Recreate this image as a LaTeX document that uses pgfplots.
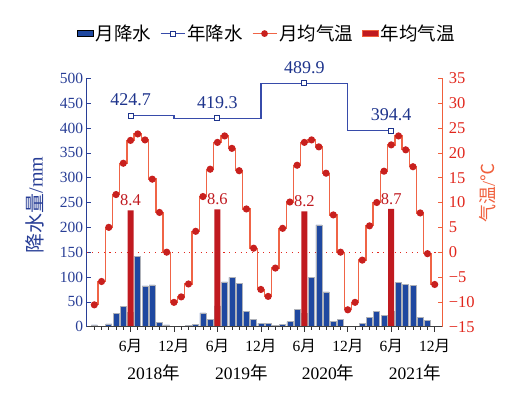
\documentclass[border=0pt]{standalone}
\usepackage{pgfplots}
\pgfplotsset{compat=1.18}
\usepackage{pgfplotstable}
\usepackage{fontspec}
\setmainfont{Liberation Serif}
\newfontfamily\cjk{Noto Sans CJK SC}
\newcommand\fs[1]{\fontsize{#1}{#1}\selectfont}
\definecolor{pblue}{RGB}{31,72,160}
\definecolor{pedge}{RGB}{175,178,185}
\definecolor{axblue}{RGB}{40,62,150}
\definecolor{lineblue}{RGB}{55,75,170}
\definecolor{lblblue}{RGB}{30,52,140}
\definecolor{tline}{RGB}{240,100,70}
\definecolor{tmark}{RGB}{200,32,30}
\definecolor{tbar}{RGB}{192,26,32}
\definecolor{axred}{RGB}{240,95,60}
\definecolor{lblred}{RGB}{225,38,28}

\pgfplotstableread{
m p
1 3.5
3 5.5
4 26
5 41
6 28
7 142
8 82
9 84
10 8.7
11 3.5
14 3.4
15 5.4
16 27.6
17 14
18 42
19 90
20 99.4
21 87.4
22 30
23 14
24 7.4
25 7.4
26 3.4
27 5.4
28 10
29 35.6
30 26
31 99.4
32 205
33 70
34 10
35 15.4
38 7.4
39 18.8
40 31
41 22
42 31
43 89
44 85
45 82.7
46 18.8
47 12
}\precip

\pgfplotstableread{
m t
1 -10.6
2 -5.9
3 5.0
4 11.6
5 17.9
6 22.5
7 23.8
8 22.6
9 14.7
10 8.0
11 0.0
12 -10.1
13 -9.0
14 -6.4
15 4.2
16 11.2
17 16.7
18 22.1
19 23.4
20 20.9
21 16.4
22 8.7
23 0.8
24 -7.5
25 -8.9
26 -3.2
27 4.8
28 10.1
29 17.5
30 22.1
31 22.6
32 21.2
33 15.9
34 7.5
35 0.0
36 -11.6
37 -10.1
38 -1.6
39 5.3
40 10.0
41 16.3
42 21.6
43 23.4
44 20.6
45 17.2
46 7.9
47 -0.3
48 -6.5
}\temp

\pgfplotstableread{
m P
6 424.7
18 419.3
30 489.9
42 394.4
}\annualP

\pgfplotstableread{
m T
6 8.4
18 8.6
30 8.2
42 8.7
}\annualT

\pgfplotsset{
  base/.style={scale only axis, width=355.6pt, height=248.4pt,
    at={(86.7pt,72.3pt)}, anchor=south west, xmin=-0.05, xmax=49.05,
    /pgf/number format/assume math mode=true},
  rectlegend/.style={legend image code/.code={\draw[##1] (0pt,-3pt) rectangle (16pt,3pt);}},
  linelegend/.style={legend image code/.code={\draw[mark repeat=2,mark phase=2,##1] plot coordinates {(0pt,0pt) (12pt,0pt) (24pt,0pt)};}},
}

\begin{document}
\begin{tikzpicture}
% precipitation axis (left)
\begin{axis}[base, ymin=0, ymax=500,
  axis y line*=left, axis x line=none, xtick=\empty,
  ytick={0,50,...,500}, tick align=inside, major tick length=4pt,
  y axis line style={axblue, line width=0.8pt},
  ytick style={axblue, line width=0.6pt},
  yticklabel style={font=\fs{15.5}, text=axblue},
  ylabel={{\cjk 降水量}/mm},
  ylabel style={font=\fs{20}, text=axblue, at={(axis description cs:-0.145,0.49)}, anchor=center},
  clip=false]
\draw[lblred, line width=1.1pt, dash pattern=on 1.1pt off 4.6pt] (axis cs:-0.05,150) -- (axis cs:49.05,150);
\addplot[ybar, bar width=6pt, fill=pblue, draw=pedge, line width=0.6pt] table[x=m,y=p]{\precip};
\addplot[const plot mark mid, color=lineblue, line width=1.3pt, mark=square*, mark size=2.5pt,
  mark options={fill=white, draw=lblblue, line width=0.9pt},
  nodes near coords, nodes near coords style={font=\fs{18}, text=lblblue, anchor=south, yshift=6pt}]
  table[x=m,y=P]{\annualP};
\end{axis}
% annual temperature bars (temperature + 15 on a 0..50 scale, same as -15..35)
\begin{axis}[base, ymin=0, ymax=50, hide axis, clip=false]
\addplot[ybar, bar width=6pt, fill=tbar, draw=none, point meta=explicit,
  nodes near coords, nodes near coords style={font=\fs{16.5}, text=tbar, anchor=south, yshift=1pt}]
  table[x=m, y expr=\thisrow{T}+15, meta=T]{\annualT};
\end{axis}
% temperature axis (right)
\begin{axis}[base, ymin=-15, ymax=35,
  axis y line*=right, axis x line=none, xtick=\empty,
  ytick={-15,-10,...,35},
  yticklabels={−15,−10,−5,0,5,10,15,20,25,30,35},
  tick align=inside, major tick length=4pt,
  y axis line style={axred, line width=0.8pt},
  ytick style={axred, line width=0.6pt},
  yticklabel style={font=\fs{16.5}, text=lblred, xshift=3pt},
  ylabel={{\cjk 气温}/{\cjk ℃}},
  ylabel style={font=\fs{18}, text=axred, at={(axis description cs:1.1285,0.54)}, anchor=center},
  clip=false]
\addplot[const plot mark mid, tline, line width=1.3pt, mark=*, mark size=2.9pt,
  mark options={fill=tmark, draw=tmark}] table[x=m,y=t]{\temp};
\end{axis}
% x axis + legend
\begin{axis}[base, ymin=0, ymax=1,
  axis x line*=bottom, axis y line=none, ytick=\empty,
  xtick={6,12,...,48},
  xticklabels={6{\cjk 月},12{\cjk 月},6{\cjk 月},12{\cjk 月},6{\cjk 月},12{\cjk 月},6{\cjk 月},12{\cjk 月}},
  minor xtick={1,...,48},
  tick align=outside, major tick length=5pt, minor tick length=3pt,
  x axis line style={black!75, line width=0.8pt},
  xtick style={black!80, line width=0.6pt},
  xticklabel style={font=\fs{15.5}, anchor=base, yshift=-20pt},
  legend columns=4,
  legend style={at={(0.507,1.18)}, anchor=center, draw=none, fill=none,
    font=\cjk\fs{18.5}, /tikz/every even column/.append style={column sep=7pt}},
  clip=false]
\addlegendimage{rectlegend, fill=pblue, draw=none}
\addlegendimage{linelegend, lineblue, line width=1.3pt, mark=square*, mark size=2.5pt, mark options={fill=white, draw=lblblue, line width=0.9pt}}
\addlegendimage{linelegend, tline, line width=1.3pt, mark=*, mark size=2.7pt, mark options={fill=tmark, draw=tmark}}
\addlegendimage{rectlegend, fill=tbar, draw=axred, line width=0.6pt}
\legend{月降水,年降水,月均气温,年均气温}
\node[anchor=base, font=\fs{17.5}, yshift=-52.6pt] at (axis cs:9.2,0) {2018{\cjk 年}};
\node[anchor=base, font=\fs{17.5}, yshift=-52.6pt] at (axis cs:21.3,0) {2019{\cjk 年}};
\node[anchor=base, font=\fs{17.5}, yshift=-52.6pt] at (axis cs:33.3,0) {2020{\cjk 年}};
\node[anchor=base, font=\fs{17.5}, yshift=-52.6pt] at (axis cs:45.3,0) {2021{\cjk 年}};
\end{axis}
\pgfresetboundingbox
\useasboundingbox (0,0) rectangle (523pt,399pt);
\end{tikzpicture}
\end{document}
